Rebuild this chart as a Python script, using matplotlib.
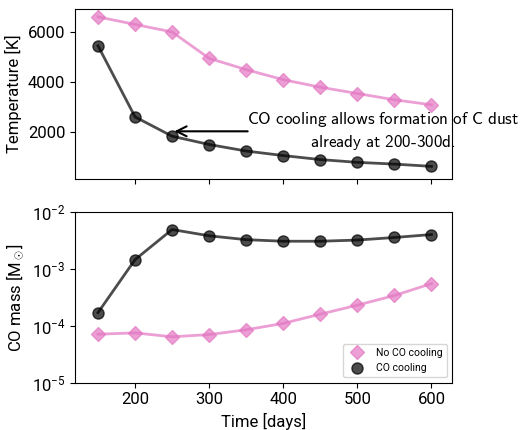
import matplotlib
matplotlib.use('Agg')
import matplotlib.pyplot as plt
from matplotlib.lines import Line2D

# tempo em dias
tempo = [150, 200, 250, 300, 350, 400, 450, 500, 550, 600]

# temperatura [K]
temp_sem_co = [6600, 6300, 6000, 4950, 4500, 4100, 3800, 3550, 3300, 3100]
temp_com_co = [5450, 2620, 1850, 1520, 1260, 1080, 920, 810, 740, 650]

# massa de CO [Msun]
massa_sem_co = [7.1e-5, 7.5e-5, 6.4e-5, 7.0e-5, 8.5e-5, 1.1e-4, 1.6e-4, 2.3e-4, 3.4e-4, 5.5e-4]
massa_com_co = [1.7e-4, 1.45e-3, 4.9e-3, 3.8e-3, 3.25e-3, 3.05e-3, 3.05e-3, 3.2e-3, 3.55e-3, 4.0e-3]

rotulos = ['No CO cooling', 'CO cooling']

plt.rcParams['font.family'] = ['Roboto', 'DejaVu Sans']
plt.rcParams['mathtext.fontset'] = 'custom'
plt.rcParams['mathtext.rm'] = 'Roboto'
plt.rcParams['mathtext.it'] = 'Roboto:italic'

rosa = '#e377c2'
preto = 'black'

fig, (ax1, ax2) = plt.subplots(2, 1, figsize=(5.21, 4.30), dpi=100, sharex=True)
fig.subplots_adjust(left=0.144, right=0.868, top=0.98, bottom=0.11, hspace=0.19)

# painel de cima: temperatura
ax1.plot(tempo, temp_sem_co, marker='D', ms=7, lw=2, color=rosa, alpha=0.7)
ax1.plot(tempo, temp_com_co, marker='o', ms=8, lw=2, color=preto, alpha=0.7)
ax1.set_ylabel('Temperature [K]', fontsize=12)
ax1.set_ylim(130, 6930)
ax1.set_yticks([2000, 4000, 6000])
ax1.tick_params(labelsize=12)

# seta e texto explicativo
ax1.annotate('', xy=(253, 2045), xytext=(352, 2045),
             arrowprops=dict(arrowstyle='->', color='black', lw=1.5, mutation_scale=18,
                             shrinkA=0, shrinkB=0))
linha1 = r'$\mathsf{CO\ cooling\ allows\ formation\ of\ C\ dust}$'
linha2 = r'$\mathsf{already\ at\ }$200-300d.'
ax1.text(351, 2045, linha1 + '\n' + linha2, ha='left', va='center',
         multialignment='center', fontsize=12.3, math_fontfamily='cm',
         family=['cmss10', 'DejaVu Sans'], clip_on=False, linespacing=1.3)

# painel de baixo: massa de CO
ax2.plot(tempo, massa_sem_co, marker='D', ms=7, lw=2, color=rosa, alpha=0.7)
ax2.plot(tempo, massa_com_co, marker='o', ms=8, lw=2, color=preto, alpha=0.7)
ax2.set_yscale('log')
ax2.set_ylim(1e-5, 1e-2)
ax2.minorticks_off()
ax2.set_ylabel(r'CO mass [M$_\odot$]', fontsize=12)
ax2.set_xlabel('Time [days]', fontsize=12)
ax2.set_xlim(119, 628)
ax2.set_xticks([200, 300, 400, 500, 600])
ax2.tick_params(labelsize=12)

# legenda apenas com marcadores
handles = [Line2D([], [], marker='D', ls='', ms=7, color=rosa, alpha=0.7),
           Line2D([], [], marker='o', ls='', ms=8, color=preto, alpha=0.7)]
ax2.legend(handles, rotulos, loc='lower right', fontsize=7.5, handletextpad=0.8)

fig.savefig('out.png', dpi=100)
